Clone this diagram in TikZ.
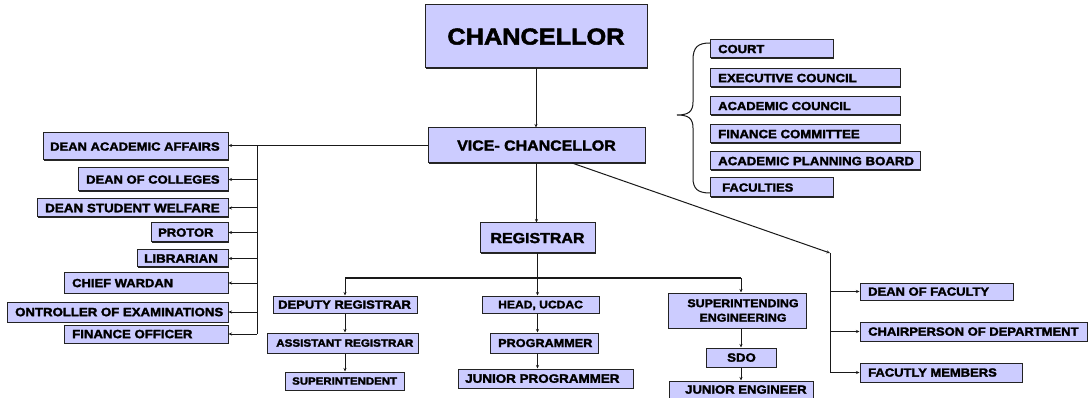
\documentclass[tikz,border=0pt]{standalone}
\usepackage{fontspec}
\newfontfamily\hv{Liberation Sans Bold}[FakeStretch=1.1,FakeBold=2.2]
\usetikzlibrary{arrows.meta,shadows}
\definecolor{lav}{RGB}{204,204,255}
\definecolor{edge}{RGB}{35,35,35}
\tikzset{
  box/.style={draw=edge, fill=lav, line width=1pt, inner sep=0pt,
    drop shadow={shadow xshift=1.3pt, shadow yshift=-1.3pt, fill=black!85, opacity=1}},
  txt/.style={anchor=west, inner sep=0pt, text depth=0pt},
  ln/.style={line width=1pt, draw=black!90},
  arr/.style={ln, -{Stealth[length=3.5pt,width=3pt]}}
}
% optional font size, name, x1, y1, x2, y2, text x, text
\newcommand\bx[8][11.8]{%
  \node[box, minimum width={#5-#3}, minimum height={#6-#4}] (#2) at ({(#3+#5)/2},{(#4+#6)/2}) {};
  \node[txt, font=\hv\fontsize{#1}{#1}\selectfont] (#2t) at (#7,{(#4+#6)/2}) {#8};
}
\begin{document}
\begin{tikzpicture}[x=1pt,y=-1pt]
\useasboundingbox (0,0) rectangle (1090,398);
\fill[white] (0,0) rectangle (1090,398);

% top
\node[box, minimum width=222, minimum height=63] (ch) at (536,36.5) {};
\node[font=\hv\fontsize{23}{23}\selectfont, inner sep=0pt, text depth=0pt] (cht) at (ch.center) {CHANCELLOR};
\node[box, minimum width=217, minimum height=35] (vc) at (536.5,145.5) {};
\node[font=\hv\fontsize{14.5}{14.5}\selectfont, inner sep=0pt, text depth=0pt] (vct) at (vc.center) {VICE- CHANCELLOR};
\node[box, minimum width=115, minimum height=30] (reg) at (537.5,238) {};
\node[font=\hv\fontsize{14.5}{14.5}\selectfont, inner sep=0pt, text depth=0pt] (regt) at (reg.center) {REGISTRAR};

% left column
\bx{daa}{43}{133}{228}{160}{50}{DEAN ACADEMIC AFFAIRS}
\bx{doc}{78}{168}{228}{191}{86}{DEAN OF COLLEGES}
\bx[12.2]{dsw}{37}{199}{228}{217}{45}{DEAN STUDENT WELFARE}
\bx{pro}{151}{223}{228}{242}{158}{PROTOR}
\bx[12.2]{lib}{137}{250}{228}{267}{144}{LIBRARIAN}
\bx{cw}{64}{273}{228}{293}{72}{CHIEF WARDAN}
\bx[12]{coe}{7}{302}{228}{322}{15}{ONTROLLER OF EXAMINATIONS}
\bx[12]{fo}{64}{325}{228}{343}{72}{FINANCE OFFICER}

% committees
\bx{court}{710}{40}{833}{58}{718}{COURT}
\bx[12]{ec}{710}{69}{900}{87}{718}{EXECUTIVE COUNCIL}
\bx{ac}{710}{97}{900}{115}{718}{ACADEMIC COUNCIL}
\bx[12]{fc}{710}{125}{900}{143}{718}{FINANCE COMMITTEE}
\bx[12]{apb}{710}{152}{920}{170}{718}{ACADEMIC PLANNING BOARD}
\bx{fac}{710}{178}{833}{197}{722}{FACULTIES}

% right
\bx{dof}{860}{283}{1013}{300}{868}{DEAN OF FACULTY}
\bx{cod}{860}{322}{1087}{341}{868}{CHAIRPERSON OF DEPARTMENT}
\bx{fm}{860}{363}{1022}{382}{868}{FACUTLY MEMBERS}

% bottom
\bx{dr}{273}{296}{417}{313}{278}{DEPUTY REGISTRAR}
\bx[10.6]{ar}{267}{333}{418}{353}{276}{ASSISTANT REGISTRAR}
\bx[10.4]{sup}{285}{372}{404}{390}{292}{SUPERINTENDENT}
\bx[11]{head}{482}{296}{599}{313}{498}{HEAD, UCDAC}
\bx[11.5]{prog}{490}{333}{598}{353}{498}{PROGRAMMER}
\bx[12.2]{jp}{458}{369}{633}{388}{465}{JUNIOR PROGRAMMER}
\node[box, minimum width=138, minimum height=35] (se) at (737,310.5) {};
\node[font=\hv\fontsize{11.3}{14.5}\selectfont, inner sep=0pt, align=center] (set) at (743,310.5) {SUPERINTENDING\\ ENGINEERING};
\bx[12]{sdo}{706}{348}{776}{367}{727}{SDO}
\bx[11.9]{je}{669}{381}{813}{398}{685}{JUNIOR ENGINEER}

% brace
\draw[ln] (710,43) .. controls (698,43) and (693,47) .. (693,60) -- (693,102)
  .. controls (693,112) and (688,115) .. (677,115)
  .. controls (688,115) and (693,118) .. (693,128) -- (693,178)
  .. controls (693,189) and (698,193) .. (710,193);

% connectors
\draw[arr] (ch.south) -- (ch.south |- vc.north);
\draw[arr] (vc.south) -- (vc.south |- reg.north);

% left bus
\coordinate (lbt) at (257,145.5);
\draw[arr] (vc.west) -- (vc.west -| daa.east);
\draw[ln] (lbt) -- (lbt |- fo.east);
\foreach \n in {doc,dsw,pro,lib,cw,coe,fo}
  \draw[arr] (lbt |- \n.east) -- (\n.east);

% right bus
\coordinate (vcd) at (572,163);
\coordinate (rbt) at (830,253);
\draw[arr] (vcd) -- (rbt);
\draw[ln] (rbt) -- (rbt |- fm.west);
\foreach \n in {dof,cod,fm}
  \draw[arr] (rbt |- \n.west) -- (\n.west);

% registrar bus
\coordinate (rbl) at (345,278);
\coordinate (rbr) at (741,278);
\draw[ln] (rbl) -- (rbr);
\draw[arr] (reg.south) -- (reg.south |- head.north);
\draw[arr] (rbl) -- (rbl |- dr.north);
\draw[arr] (rbr) -- (rbr |- se.north);

% chains
\draw[arr] (rbl |- dr.south) -- (rbl |- ar.north);
\draw[arr] (rbl |- ar.south) -- (rbl |- sup.north);
\draw[arr] (reg.south |- head.south) -- (reg.south |- prog.north);
\draw[arr] (reg.south |- prog.south) -- (reg.south |- jp.north);
\draw[arr] (rbr |- se.south) -- (rbr |- sdo.north);
\draw[arr] (rbr |- sdo.south) -- (rbr |- je.north);
\end{tikzpicture}
\end{document}
